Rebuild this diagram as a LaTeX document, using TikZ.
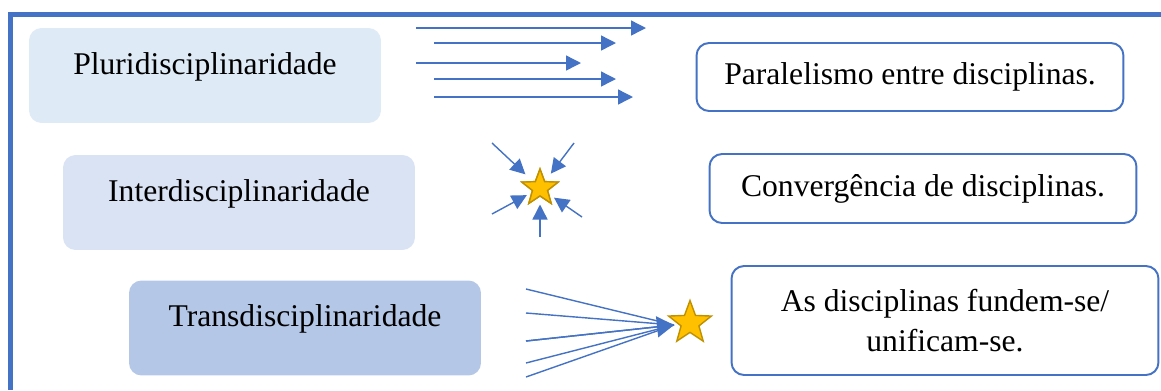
\documentclass[tikz,border=0pt]{standalone}
\usepackage{fontspec}
\setmainfont{Liberation Serif}
\usepackage{xcolor}
\usepackage{tikz}
\usetikzlibrary{positioning,arrows.meta,shapes.geometric}
\definecolor{frameblue}{HTML}{4472C4}
\definecolor{pluricol}{HTML}{DEEAF6}
\definecolor{intercol}{HTML}{DAE3F3}
\definecolor{transcol}{HTML}{B4C7E7}
\definecolor{goldfill}{HTML}{FFC000}
\definecolor{golddraw}{HTML}{BF9000}

\begin{document}
\begin{tikzpicture}[x=0.02cm,y=-0.02cm,
    font=\fontsize{18}{23}\selectfont,
    level/.style={fill=#1,rounded corners=0.25cm,inner sep=0pt,
        minimum width=7.04cm,text height=0.92cm,text depth=0.98cm},
    desc/.style={draw=frameblue,line width=1.1pt,rounded corners=0.25cm,
        minimum width=8.54cm,align=center},
    arr/.style={draw=frameblue,line width=0.8pt,
        -{Triangle[length=0.3cm,width=0.3cm]}},
    estrela/.style={star,star points=5,star point ratio=2.4,fill=goldfill,
        draw=golddraw,line width=0.8pt,inner sep=0pt,minimum size=#1}]
    \useasboundingbox (0,0) rectangle (1161,390);
    % frame
    \draw[frameblue,line width=0.11cm] (10.5,390) -- (10.5,14.5) -- (1161,14.5);
    % the three levels
    \node[level=pluricol] (pluri) at (205,75.5) {Pluridisciplinaridade};
    \node[level=intercol] (inter) at (239,202.5) {Interdisciplinaridade};
    \node[level=transcol] (trans) at (305,328) {Transdisciplinaridade};
    % descriptions
    \node[desc,minimum height=1.36cm] (paral) at (910,77) {Paralelismo entre disciplinas.};
    \node[desc,minimum height=1.38cm] (conver) at (923,188.5) {Convergência de disciplinas.};
    \node[desc,minimum height=2.18cm] (fusao) at (945,320.5) {As disciplinas fundem-se/\\unificam-se.};
    % parallel arrows
    \foreach \xa/\xb/\yy [count=\i] in {416/646/28, 434/616/43, 416/581/63, 434/616/79, 434/633/97} {
        \coordinate (ps\i) at (\xa,\yy);
        \coordinate (pe\i) at (\xb,\yy);
        \draw[arr] (ps\i) -- (pe\i);
    }
    % converging arrows
    \node[estrela=0.76cm] (conv) at (540,188) {};
    \foreach \xa/\yy/\gap [count=\i] in {492/143/0.4cm, 574/143/0.36cm, 492/214/0.3cm, 582/217/0.34cm, 540/237/0.33cm} {
        \coordinate (cs\i) at (\xa,\yy);
        \draw[arr,shorten >=\gap] (cs\i) -- (conv.center);
    }
    \node[estrela=0.76cm] at (conv) {};
    % fused arrows
    \coordinate (tip) at (674,325);
    \foreach \yy [count=\i] in {289,313,341,363,377} {
        \coordinate (fs\i) at (526,\yy);
        \draw[frameblue,line width=0.8pt] (fs\i) -- (tip);
    }
    \draw[arr,-{Triangle[length=0.34cm,width=0.42cm]}] (fs3) -- (tip);
    \node[estrela=0.9cm] (fused) at (690,323) {};
\end{tikzpicture}
\end{document}
